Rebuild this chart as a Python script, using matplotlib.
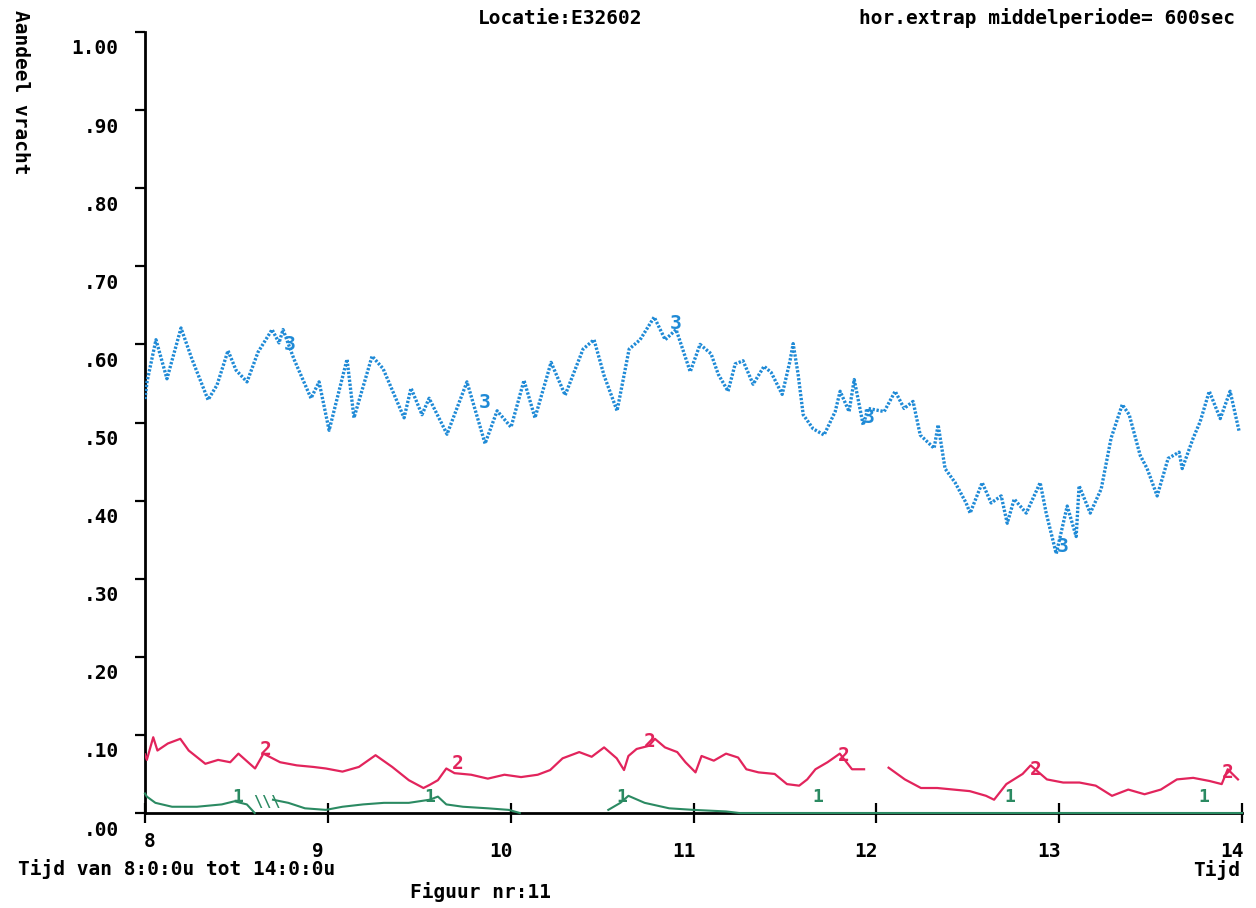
import numpy as np
import matplotlib
matplotlib.use('Agg')
import matplotlib.pyplot as plt
import matplotlib.transforms as mtransforms

plt.rcParams['font.family'] = ['DejaVu Sans Mono', 'DejaVu Sans']
plt.rcParams['font.weight'] = 'bold'

BLUE = '#1f8ad6'
RED = '#e2245c'
GREEN = '#2b8a62'

# klasse 3 (blauw, gestippeld)
t3 = [8.000, 8.011, 8.060, 8.120, 8.197, 8.257, 8.345, 8.394, 8.454, 8.498,
      8.558, 8.618, 8.695, 8.733, 8.755, 8.815, 8.908, 8.952, 9.007, 9.105,
      9.143, 9.242, 9.302, 9.417, 9.455, 9.515, 9.554, 9.652, 9.761, 9.860,
      9.926, 10.002, 10.073, 10.133, 10.221, 10.298, 10.396, 10.456, 10.511,
      10.582, 10.648, 10.708, 10.785, 10.845, 10.905, 10.982, 11.036, 11.096,
      11.135, 11.189, 11.228, 11.271, 11.326, 11.386, 11.425, 11.485, 11.528,
      11.545, 11.572, 11.600, 11.654, 11.714, 11.775, 11.802, 11.851, 11.879,
      11.928, 11.955, 12.043, 12.103, 12.152, 12.201, 12.240, 12.316, 12.338,
      12.376, 12.431, 12.491, 12.513, 12.579, 12.628, 12.683, 12.716, 12.754,
      12.820, 12.896, 12.929, 12.984, 13.044, 13.093, 13.109, 13.170, 13.230,
      13.284, 13.345, 13.383, 13.443, 13.481, 13.536, 13.596, 13.656, 13.673,
      13.733, 13.771, 13.821, 13.881, 13.935, 13.985]
v3 = [0.530, 0.552, 0.606, 0.556, 0.621, 0.581, 0.529, 0.548, 0.592, 0.567,
      0.552, 0.590, 0.619, 0.602, 0.619, 0.581, 0.531, 0.552, 0.490, 0.581,
      0.506, 0.585, 0.569, 0.506, 0.544, 0.510, 0.531, 0.485, 0.552, 0.473,
      0.515, 0.494, 0.554, 0.506, 0.577, 0.535, 0.594, 0.606, 0.560,
      0.515, 0.594, 0.606, 0.635, 0.606, 0.619, 0.565, 0.600, 0.588,
      0.562, 0.540, 0.575, 0.579, 0.549, 0.572, 0.564, 0.536, 0.579,
      0.601, 0.562, 0.510, 0.492, 0.484, 0.514, 0.540, 0.514, 0.555,
      0.497, 0.518, 0.514, 0.540, 0.518, 0.527, 0.484, 0.467, 0.497,
      0.441, 0.423, 0.397, 0.384, 0.423, 0.397, 0.406, 0.371, 0.402,
      0.384, 0.423, 0.384, 0.332, 0.393, 0.354, 0.419, 0.384, 0.415,
      0.480, 0.523, 0.510, 0.458, 0.441, 0.406, 0.454, 0.462, 0.441,
      0.480, 0.501, 0.540, 0.505, 0.540, 0.488]

# klasse 2 (rood)
t2 = [8.000, 8.010, 8.045, 8.068, 8.125, 8.193, 8.239, 8.330, 8.400, 8.466,
      8.511, 8.602, 8.648, 8.739, 8.830, 8.920, 8.989, 9.080, 9.170, 9.261,
      9.352, 9.443, 9.523, 9.557, 9.602, 9.648, 9.693, 9.784, 9.875, 9.966,
      10.057, 10.148, 10.216, 10.284, 10.375, 10.443, 10.511, 10.580, 10.620,
      10.644, 10.689, 10.756, 10.789, 10.844, 10.911, 10.956, 11.011, 11.044,
      11.111, 11.178, 11.244, 11.289, 11.356, 11.444, 11.511, 11.578, 11.622,
      11.667, 11.733, 11.800, 11.867, 11.933, 12.000,
      12.067, 12.156, 12.244, 12.333, 12.422, 12.511, 12.600, 12.644, 12.711,
      12.800, 12.844, 12.933, 13.022, 13.111, 13.200, 13.289, 13.378, 13.467,
      13.556, 13.644, 13.733, 13.822, 13.889, 13.922, 13.978]
v2 = [0.075, 0.068, 0.097, 0.080, 0.089, 0.095, 0.080, 0.063, 0.068, 0.065,
      0.076, 0.057, 0.076, 0.065, 0.061, 0.059, 0.057, 0.053, 0.059, 0.074,
      0.059, 0.042, 0.032, 0.036, 0.042, 0.057, 0.051, 0.049, 0.044, 0.049,
      0.046, 0.049, 0.055, 0.070, 0.078, 0.072, 0.084, 0.070, 0.055,
      0.073, 0.082, 0.086, 0.095, 0.084, 0.078, 0.065, 0.052, 0.073,
      0.067, 0.076, 0.071, 0.056, 0.052, 0.050, 0.037, 0.035, 0.043,
      0.056, 0.065, 0.076, 0.056, 0.056, np.nan,
      0.058, 0.043, 0.032, 0.032, 0.030, 0.028, 0.022, 0.017, 0.037,
      0.050, 0.061, 0.043, 0.039, 0.039, 0.035, 0.022, 0.030, 0.024,
      0.030, 0.043, 0.045, 0.041, 0.037, 0.056, 0.043]

# klasse 1 (groen)
t1 = [8.000, 8.010, 8.057, 8.148, 8.284, 8.420, 8.489, 8.557, 8.600, 8.650,
      8.700, 8.784, 8.875, 8.989, 9.080, 9.193, 9.307, 9.443, 9.557, 9.602,
      9.648, 9.739, 9.875, 9.989, 10.050, 10.300,
      10.534, 10.600, 10.644, 10.733, 10.867, 11.000, 11.178, 11.250, 14.000]
v1 = [0.025, 0.021, 0.013, 0.008, 0.008, 0.011, 0.015, 0.011, 0.000, np.nan,
      0.017, 0.013, 0.006, 0.004, 0.008, 0.011, 0.013, 0.013, 0.017, 0.021,
      0.011, 0.008, 0.006, 0.004, 0.000, np.nan,
      0.004, 0.013, 0.022, 0.013, 0.006, 0.004, 0.002, 0.000, 0.000]

# curve labels
lab3_t = [8.79, 9.86, 10.90, 11.96, 13.02]
lab3_v = [0.600, 0.525, 0.627, 0.507, 0.341]
lab2_t = [8.66, 9.71, 10.76, 11.82, 12.87, 13.92]
lab2_v = [0.081, 0.063, 0.091, 0.073, 0.056, 0.052]
lab1_t = [8.51, 9.56, 10.61, 11.68, 12.73, 13.79]
lab1_v = [0.020, 0.020, 0.020, 0.020, 0.020, 0.020]

y_ticks = [0.0, 0.1, 0.2, 0.3, 0.4, 0.5, 0.6, 0.7, 0.8, 0.9, 1.0]
y_labels = ['.00', '.10', '.20', '.30', '.40', '.50', '.60', '.70', '.80',
            '.90', '1.00']
x_ticks = [8, 9, 10, 11, 12, 13, 14]
x_labels = ['8', '9', '10', '11', '12', '13', '14']

W, H = 1256, 908
fig = plt.figure(figsize=(W / 100, H / 100), dpi=100)
ax = fig.add_axes([145 / W, 1 - 813 / H, (1242 - 145) / W, (813 - 32) / H])
ax.set_xlim(8, 14)
ax.set_ylim(0, 1)

ax.plot(t3, v3, color=BLUE, lw=2.4, ls=(0, (0.7, 0.5)), zorder=3)
ax.plot(t2, v2, color=RED, lw=1.6, zorder=3)
ax.plot(t1, v1, color=GREEN, lw=1.5, zorder=3, clip_on=False)

for t, v in zip(lab3_t, lab3_v):
    ax.text(t, v, '3', color=BLUE, fontsize=14, ha='center', va='center')
for t, v in zip(lab2_t, lab2_v):
    ax.text(t, v, '2', color=RED, fontsize=14, ha='center', va='center')
for t, v in zip(lab1_t, lab1_v):
    ax.text(t, v, '1', color=GREEN, fontsize=13, ha='center', va='center')
ax.text(8.665, 0.013, '\\\\\\', color=GREEN, fontsize=11, ha='center',
        va='center')

for s in ['top', 'right']:
    ax.spines[s].set_visible(False)
for s in ['left', 'bottom']:
    ax.spines[s].set_linewidth(2)
    ax.spines[s].set_color('black')

ax.set_yticks(y_ticks)
ax.set_yticklabels(y_labels)
ax.set_xticks(x_ticks)
ax.set_xticklabels(x_labels)
ax.tick_params(axis='y', direction='out', length=7, width=1.6, pad=12,
               labelsize=14)
ax.tick_params(axis='x', direction='inout', length=14, width=1.6, pad=14,
               labelsize=14)

# labels sit a bit below / left of their ticks, as in the original
for tick in ax.yaxis.get_major_ticks():
    off = mtransforms.ScaledTranslation(0, -0.15, fig.dpi_scale_trans)
    tick.label1.set_transform(tick.label1.get_transform() + off)
for i, tick in enumerate(ax.xaxis.get_major_ticks()):
    if i == 0:
        off = mtransforms.ScaledTranslation(0.05, 0.1, fig.dpi_scale_trans)
    else:
        off = mtransforms.ScaledTranslation(-0.1, 0, fig.dpi_scale_trans)
    tick.label1.set_transform(tick.label1.get_transform() + off)

fig.text(20 / W, 1 - 10 / H, 'Aandeel vracht', rotation=270, fontsize=14,
         ha='center', va='top')
fig.text(478 / W, 1 - 18 / H, 'Locatie:E32602', fontsize=14, ha='left',
         va='center')
fig.text(1235 / W, 1 - 18 / H, 'hor.extrap middelperiode= 600sec',
         fontsize=14, ha='right', va='center')
fig.text(18 / W, 1 - 869 / H, 'Tijd van 8:0:0u tot 14:0:0u', fontsize=14,
         ha='left', va='center')
fig.text(410 / W, 1 - 892 / H, 'Figuur nr:11', fontsize=14, ha='left',
         va='center')
fig.text(1240 / W, 1 - 870 / H, 'Tijd', fontsize=14, ha='right',
         va='center')

fig.savefig('out.png', dpi=100, facecolor='white')
